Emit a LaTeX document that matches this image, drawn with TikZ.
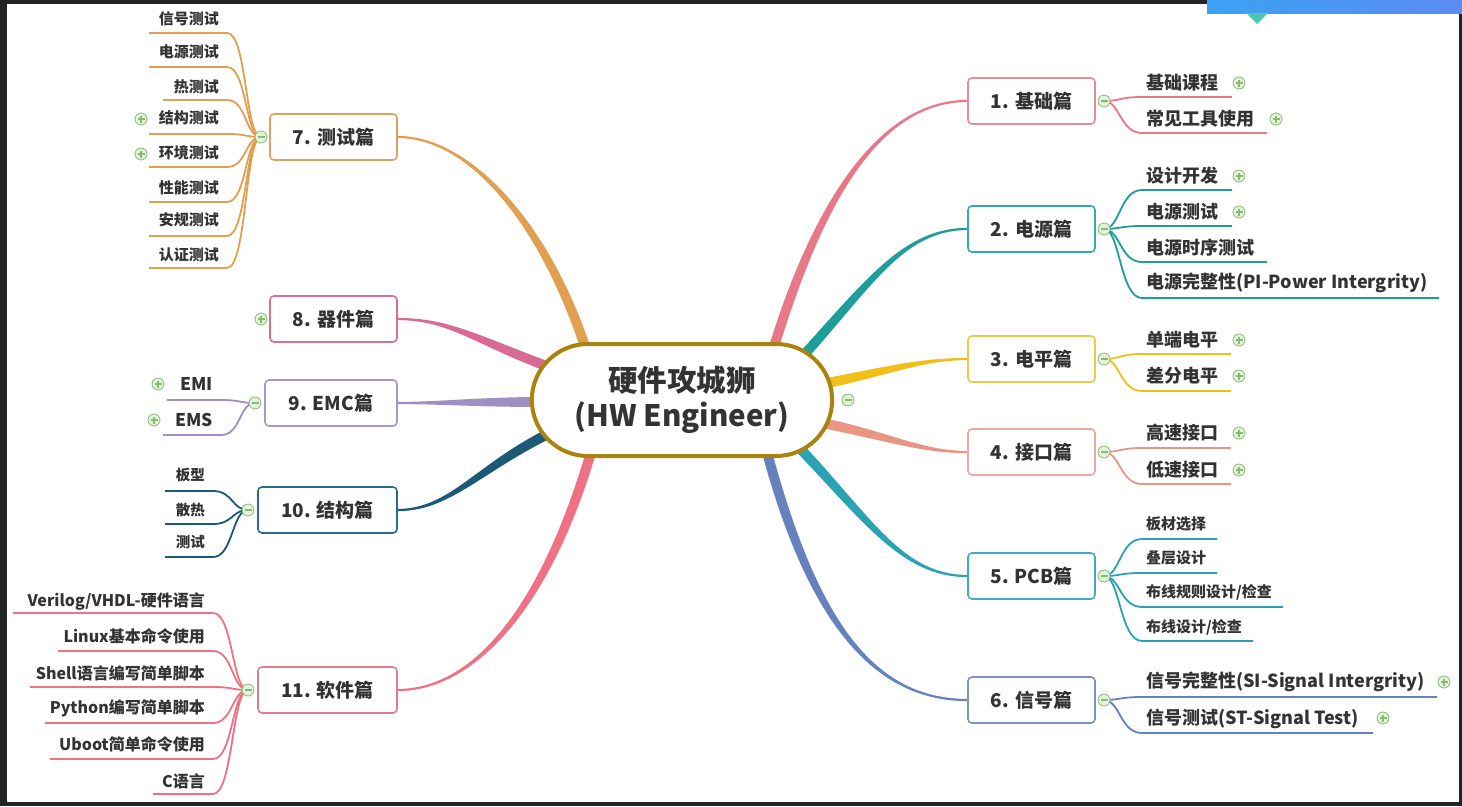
\documentclass[tikz,border=0pt]{standalone}
\usepackage{fontspec}
\setmainfont{Noto Sans CJK SC}
\usetikzlibrary{calc,shapes.misc}
\pgfdeclarelayer{back}\pgfdeclarelayer{bg}
\pgfsetlayers{back,bg,main}
\definecolor{txt}{HTML}{333333}
\definecolor{frm}{HTML}{232323}
\definecolor{gold}{HTML}{A8840F}
\definecolor{pmd}{HTML}{86BB72}
\definecolor{pmf}{HTML}{E4F2DC}
\definecolor{c1}{HTML}{E87888}\definecolor{d1}{HTML}{E58C9A}
\definecolor{c2}{HTML}{1E9E9A}\definecolor{d2}{HTML}{3AA8A6}
\definecolor{c3}{HTML}{F2BE18}\definecolor{d3}{HTML}{EFC84A}
\definecolor{c4}{HTML}{EA9484}\definecolor{d4}{HTML}{E8AAA2}
\definecolor{c5}{HTML}{2BA3B5}\definecolor{d5}{HTML}{40AAC0}
\definecolor{c6}{HTML}{6582BF}\definecolor{d6}{HTML}{7A92C4}
\definecolor{c7}{HTML}{E0A050}\definecolor{d7}{HTML}{DDA262}
\definecolor{c8}{HTML}{D96A95}\definecolor{d8}{HTML}{D8708F}
\definecolor{c9}{HTML}{9E90C2}\definecolor{d9}{HTML}{A898C8}
\definecolor{c10}{HTML}{1C5877}\definecolor{d10}{HTML}{2A6A8A}
\definecolor{c11}{HTML}{EE7282}\definecolor{d11}{HTML}{E07C8A}
\definecolor{bna}{HTML}{3AA2F2}\definecolor{bnb}{HTML}{5C8CF0}
\definecolor{tri}{HTML}{4CC8B0}
\tikzset{
  box/.style={draw, rounded corners=4pt, line width=1.6pt, fill=white, minimum height=46pt,
    font=\bfseries\fontsize{19}{21}\selectfont, text=txt},
  rtxt/.style={inner sep=0pt, text=txt, font=\bfseries\fontsize{18}{20}\selectfont},
  rsm/.style={inner sep=0pt, text=txt, font=\bfseries\fontsize{15}{17}\selectfont},
  ltxt/.style={inner sep=0pt, text=txt, font=\bfseries\fontsize{15}{17}\selectfont},
  lmid/.style={inner sep=0pt, text=txt, font=\bfseries\fontsize{16}{18}\selectfont},
  lemc/.style={inner sep=0pt, text=txt, font=\bfseries\fontsize{17.5}{19}\selectfont},
  lsm/.style={inner sep=0pt, text=txt, font=\bfseries\fontsize{14.5}{16}\selectfont},
  subln/.style={line width=1.8pt},
  pm/.style={circle, draw=pmd, fill=pmf, line width=0.8pt, minimum size=12pt, inner sep=0pt},
  plusic/.style={pm, path picture={\draw[pmd, line width=1.1pt]
      ([xshift=-3.5pt]path picture bounding box.center) -- ([xshift=3.5pt]path picture bounding box.center)
      ([yshift=-3.5pt]path picture bounding box.center) -- ([yshift=3.5pt]path picture bounding box.center);}},
  minusic/.style={pm, path picture={\draw[pmd, line width=1.1pt]
      ([xshift=-3.5pt]path picture bounding box.center) -- ([xshift=3.5pt]path picture bounding box.center);}},
}
\newcommand{\Taper}[5]{%
  \path #2 coordinate (tA) #5 coordinate (tB) #3 coordinate (tc1) #4 coordinate (tc2);
  \path ($(tA)!5pt!90:(tc1)$) coordinate (tA1) ($(tA)!5pt!-90:(tc1)$) coordinate (tA2)
        ($(tB)!1.1pt!-90:(tc2)$) coordinate (tB1) ($(tB)!1.1pt!90:(tc2)$) coordinate (tB2);
  \fill[#1] (tA1) .. controls ($(tc1)+(tA1)-(tA)$) and ($(tc2)+(tB1)-(tB)$) .. (tB1)
     -- (tB2) .. controls ($(tc2)+(tB2)-(tB)$) and ($(tc1)+(tA2)-(tA)$) .. (tA2) -- cycle;
}
% right child: [style] name minus ytext yline xend text
\newcommand{\RChild}[7][rtxt]{%
  \node[#1, anchor=west] (#2) at (1146,#4) {#7};
  \coordinate (#2s) at (1142,#5);
  \coordinate (#2e) at (#6,#5);
  \begin{pgfonlayer}{bg}
  \draw[subln, draw=\brc] (#3.center) .. controls ($(#3.center)+(16,0)$) and ($(#2s)+(-22,0)$) .. (#2s) -- (#2e);
  \end{pgfonlayer}
}
% left child: [style] name minus ytext yline xstart text
\newcommand{\LChild}[7][ltxt]{%
  \node[#1, anchor=east] (#2) at (\lx,#4) {#7};
  \coordinate (#2s) at (#6,#5);
  \coordinate (#2e) at (\lx+8,#5);
  \begin{pgfonlayer}{bg}
  \draw[subln, draw=\brc] (#2s) -- (#2e) .. controls ($(#2e)+(20,0)$) and ($(#3.center)+(-16,0)$) .. (#3.center);
  \end{pgfonlayer}
}
\begin{document}
\begin{tikzpicture}[x=1pt,y=-1pt]
\useasboundingbox (0,0) rectangle (1462,806);
\begin{pgfonlayer}{back}
  \fill[frm] (0,0) rectangle (1462,806);
  \fill[white] (7,4) rectangle (1459,802);
  \shade[left color=bna, right color=bnb] (1207,0) rectangle (1462,13);
  \fill[tri] (1246,13) -- (1268,13) -- (1257,24) -- cycle;
\end{pgfonlayer}

% central node
\node[rounded rectangle, draw=gold, line width=4pt, fill=white, minimum width=307pt, minimum height=112pt,
      align=center, text=txt, font=\bfseries\fontsize{29.5}{35}\selectfont] (c) at (682,400)
      {硬件攻城狮\\(HW Engineer)};
\node[minusic] (mc) at (848,400) {};

% boxes right
\node[box, draw=d1, minimum width=127pt] (b1) at (1031.5,101) {1. 基础篇};
\node[box, draw=d2, minimum width=127pt] (b2) at (1031.5,229) {2. 电源篇};
\node[box, draw=d3, minimum width=127pt] (b3) at (1031.5,359) {3. 电平篇};
\node[box, draw=d4, minimum width=127pt] (b4) at (1031.5,452) {4. 接口篇};
\node[box, draw=d5, minimum width=127pt] (b5) at (1031.5,576) {5. PCB篇};
\node[box, draw=d6, minimum width=127pt] (b6) at (1031.5,700) {6. 信号篇};
% boxes left
\node[box, draw=d7, minimum width=127pt] (b7) at (333.5,137) {7. 测试篇};
\node[box, draw=d8, minimum width=127pt] (b8) at (333.5,319) {8. 器件篇};
\node[box, draw=d9, minimum width=132pt] (b9) at (331,403) {9. EMC篇};
\node[box, draw=d10, minimum width=139pt] (b10) at (327.5,510) {10. 结构篇};
\node[box, draw=d11, minimum width=139pt] (b11) at (327.5,690) {11. 软件篇};

% main connectors
\begin{pgfonlayer}{bg}
\Taper{c1}{($(c.center)+(88,-40)$)}{(810,225)}{(870,101)}{(b1.west)}
\Taper{c2}{($(c.center)+(108,-30)$)}{(865,290)}{(900,229)}{(b2.west)}
\Taper{c3}{($(c.center)+(135,-15)$)}{(885,372)}{(920,359)}{(b3.west)}
\Taper{c4}{($(c.center)+(135,22)$)}{(885,435)}{(920,452)}{(b4.west)}
\Taper{c5}{($(c.center)+(108,38)$)}{(865,515)}{(900,576)}{(b5.west)}
\Taper{c6}{($(c.center)+(83,45)$)}{(810,615)}{(870,700)}{(b6.west)}
\Taper{c7}{($(c.center)+(-92,-38)$)}{(548,225)}{(470,137)}{(b7.east)}
\Taper{c8}{($(c.center)+(-130,-32)$)}{(480,342)}{(450,319)}{(b8.east)}
\Taper{c9}{($(c.center)+(-140,2)$)}{(480,402)}{(440,403)}{(b9.east)}
\Taper{c10}{($(c.center)+(-130,32)$)}{(478,468)}{(450,510)}{(b10.east)}
\Taper{c11}{($(c.center)+(-88,42)$)}{(545,615)}{(470,690)}{(b11.east)}
\end{pgfonlayer}

% group 1
\node[minusic] (m1) at (1104,101) {};
\def\brc{c1}
\RChild{k11}{m1}{83}{97}{1232}{基础课程}
\RChild{k12}{m1}{119}{133}{1267}{常见工具使用}
\node[plusic] (p11) at (1239,83) {};
\node[plusic] (p12) at (1276,119) {};
% group 2
\node[minusic] (m2) at (1104,229) {};
\def\brc{c2}
\RChild{k21}{m2}{176}{190}{1232}{设计开发}
\RChild{k22}{m2}{212}{226}{1232}{电源测试}
\RChild{k23}{m2}{248}{262}{1267}{电源时序测试}
\RChild{k24}{m2}{283}{298}{1439}{电源完整性(PI-Power Intergrity)}
\node[plusic] (p21) at (1239,176) {};
\node[plusic] (p22) at (1239,212) {};
% group 3
\node[minusic] (m3) at (1104,359) {};
\def\brc{c3}
\RChild{k31}{m3}{340}{354}{1231}{单端电平}
\RChild{k32}{m3}{376}{391}{1231}{差分电平}
\node[plusic] (p31) at (1239,340) {};
\node[plusic] (p32) at (1239,376) {};
% group 4
\node[minusic] (m4) at (1104,452) {};
\def\brc{c4}
\RChild{k41}{m4}{433}{448}{1231}{高速接口}
\RChild{k42}{m4}{470}{484}{1231}{低速接口}
\node[plusic] (p41) at (1239,433) {};
\node[plusic] (p42) at (1239,470) {};
% group 5
\node[minusic] (m5) at (1104,576) {};
\def\brc{c5}
\RChild[rsm]{k51}{m5}{524}{539}{1217}{板材选择}
\RChild[rsm]{k52}{m5}{558}{573}{1217}{叠层设计}
\RChild[rsm]{k53}{m5}{592}{607}{1283}{布线规则设计/检查}
\RChild[rsm]{k54}{m5}{627}{641}{1253}{布线设计/检查}
% group 6
\node[minusic] (m6) at (1104,700) {};
\def\brc{c6}
\RChild{k61}{m6}{682}{697}{1437}{信号完整性(SI-Signal Intergrity)}
\RChild{k62}{m6}{719}{733}{1373}{信号测试(ST-Signal Test)}
\node[plusic] (p61) at (1444,682) {};
\node[plusic] (p62) at (1383,718) {};

% group 7
\node[minusic] (m7) at (261,137) {};
\def\brc{c7}\def\lx{219}
\LChild{k71}{m7}{19}{33}{149}{信号测试}
\LChild{k72}{m7}{52}{67}{149}{电源测试}
\LChild{k73}{m7}{87}{100}{163}{热测试}
\LChild{k74}{m7}{118}{134}{149}{结构测试}
\LChild{k75}{m7}{153}{167}{149}{环境测试}
\LChild{k76}{m7}{188}{202}{149}{性能测试}
\LChild{k77}{m7}{220}{236}{149}{安规测试}
\LChild{k78}{m7}{255}{268}{149}{认证测试}
\node[plusic] (p74) at (141,119) {};
\node[plusic] (p75) at (141,154) {};
% group 8
\node[plusic] (p8) at (261,319) {};
% group 9
\node[minusic] (m9) at (255,403) {};
\def\brc{c9}\def\lx{213}
\LChild[lemc]{k91}{m9}{384}{400}{167}{EMI}
\LChild[lemc]{k92}{m9}{420}{435}{163}{EMS}
\node[plusic] (p91) at (158,384) {};
\node[plusic] (p92) at (154,420) {};
% group 10
\node[minusic] (m10) at (248,510) {};
\def\brc{c10}\def\lx{205}
\LChild[lsm]{k101}{m10}{475}{491}{165}{板型}
\LChild[lsm]{k102}{m10}{510}{524}{165}{散热}
\LChild[lsm]{k103}{m10}{542}{557}{165}{测试}
% group 11
\node[minusic] (m11) at (248,690) {};
\def\brc{c11}\def\lx{205}
\LChild[lmid]{k111}{m11}{601}{613}{13}{Verilog/VHDL-硬件语言}
\LChild[lmid]{k112}{m11}{636}{651}{58}{Linux基本命令使用}
\LChild[lmid]{k113}{m11}{673}{687}{30}{Shell语言编写简单脚本}
\LChild[lmid]{k114}{m11}{708}{723}{45}{Python编写简单脚本}
\LChild[lmid]{k115}{m11}{744}{759}{50}{Uboot简单命令使用}
\LChild[lmid]{k116}{m11}{781}{794}{153}{C语言}
\end{tikzpicture}
\end{document}
